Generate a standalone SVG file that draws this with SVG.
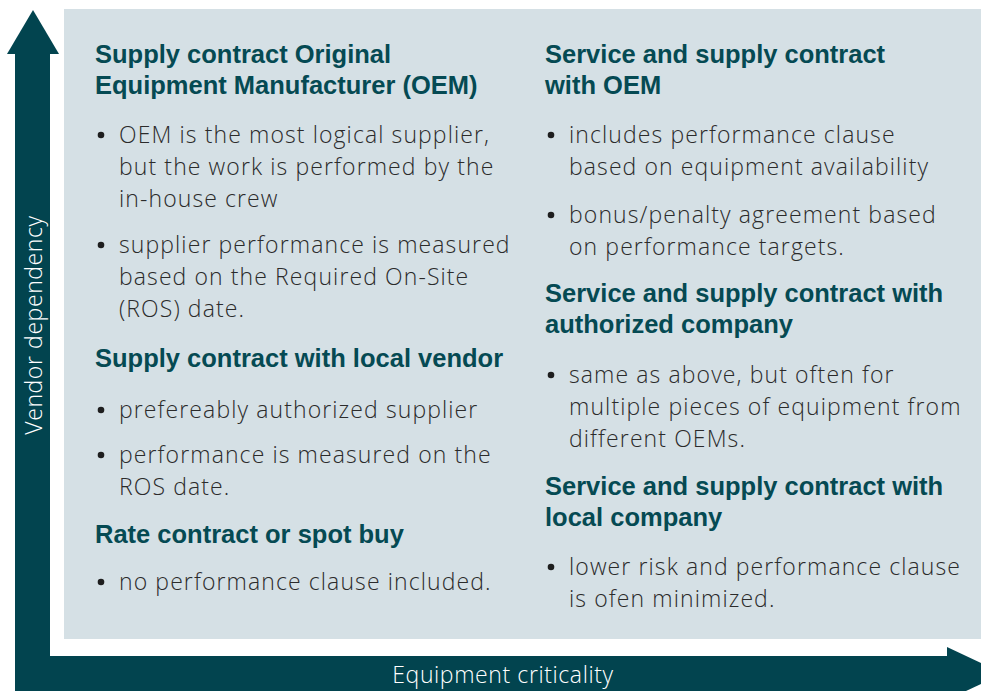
<svg xmlns="http://www.w3.org/2000/svg" width="981" height="691" viewBox="0 0 981 691">
<style>
.axis{fill:#02444f}
.panel{fill:#d5e0e5}
.h{font-family:"Liberation Sans",Arial,sans-serif;font-weight:bold;font-size:25.5px;fill:#054a53}
.b{font-family:"Open Sans","Liberation Sans",sans-serif;font-weight:300;font-size:23px;letter-spacing:1.1px;fill:#2b2b2b}
.dot{fill:#1e1e1e}
.ax{font-family:"Open Sans","Liberation Sans",sans-serif;font-weight:300;font-size:23px;letter-spacing:0.6px;fill:#ffffff}
</style>
<rect class="panel" x="64" y="9" width="917" height="630"/>
<g id="axes">
<rect class="axis" x="15" y="53" width="35" height="638"/>
<polygon class="axis" points="33,10 59,54 7,54"/>
<rect class="axis" x="15" y="656" width="933" height="35"/>
<polygon class="axis" points="947,647 1003,673.5 947,700"/>
<text class="ax" transform="translate(42,325) rotate(-90)" text-anchor="middle">Vendor dependency</text>
<text class="ax" x="503" y="683" text-anchor="middle">Equipment criticality</text>
</g>
<g id="oem-supply">
<text class="h" x="95" y="63">Supply contract Original</text>
<text class="h" x="95" y="94">Equipment Manufacturer (OEM)</text>
<circle class="dot" cx="101" cy="135" r="3.3"/>
<text class="b" x="119" y="143">OEM is the most logical supplier,</text>
<text class="b" x="119" y="175">but the work is performed by the</text>
<text class="b" x="119" y="207">in-house crew</text>
<circle class="dot" cx="101" cy="245" r="3.3"/>
<text class="b" x="119" y="253">supplier performance is measured</text>
<text class="b" x="119" y="285">based on the Required On-Site</text>
<text class="b" x="119" y="317">(ROS) date.</text>
</g>
<g id="local-vendor">
<text class="h" x="95" y="367">Supply contract with local vendor</text>
<circle class="dot" cx="101" cy="410" r="3.3"/>
<text class="b" x="119" y="418">prefereably authorized supplier</text>
<circle class="dot" cx="101" cy="455" r="3.3"/>
<text class="b" x="119" y="463">performance is measured on the</text>
<text class="b" x="119" y="495">ROS date.</text>
</g>
<g id="spot-buy">
<text class="h" x="95" y="543">Rate contract or spot buy</text>
<circle class="dot" cx="101" cy="582" r="3.3"/>
<text class="b" x="119" y="590">no performance clause included.</text>
</g>
<g id="oem-service">
<text class="h" x="545" y="63">Service and supply contract</text>
<text class="h" x="545" y="94">with OEM</text>
<circle class="dot" cx="551" cy="135" r="3.3"/>
<text class="b" x="569" y="143">includes performance clause</text>
<text class="b" x="569" y="175">based on equipment availability</text>
<circle class="dot" cx="551" cy="215" r="3.3"/>
<text class="b" x="569" y="223">bonus/penalty agreement based</text>
<text class="b" x="569" y="255">on performance targets.</text>
</g>
<g id="authorized-service">
<text class="h" x="545" y="302">Service and supply contract with</text>
<text class="h" x="545" y="333">authorized company</text>
<circle class="dot" cx="551" cy="375" r="3.3"/>
<text class="b" x="569" y="383">same as above, but often for</text>
<text class="b" x="569" y="415">multiple pieces of equipment from</text>
<text class="b" x="569" y="447">different OEMs.</text>
</g>
<g id="local-service">
<text class="h" x="545" y="495">Service and supply contract with</text>
<text class="h" x="545" y="526">local company</text>
<circle class="dot" cx="551" cy="567" r="3.3"/>
<text class="b" x="569" y="575">lower risk and performance clause</text>
<text class="b" x="569" y="607">is ofen minimized.</text>
</g>
<g id="connectors"/>
</svg>
